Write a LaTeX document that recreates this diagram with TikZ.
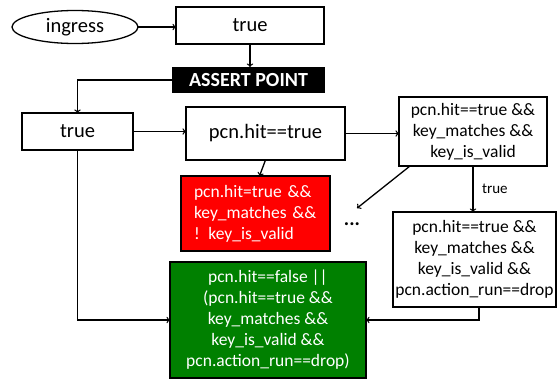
\documentclass[tikz,border=0pt]{standalone}
\usepackage{fontspec}
\setmainfont{Carlito}
\usetikzlibrary{shapes.geometric}
\definecolor{dropred}{RGB}{255,0,0}
\definecolor{passgreen}{RGB}{0,128,0}
\begin{document}
\begin{tikzpicture}[x=1pt,y=-1pt,inner sep=0pt,outer sep=0pt,line width=1.3pt,
condbox/.style={draw,rectangle,fill=white,font=\fontsize{20.5}{24.6}\selectfont},
exprbox/.style={draw,rectangle,align=center,font=\fontsize{17.5}{21}\selectfont}]
\useasboundingbox (0,0) rectangle (558,381);
\draw (75,27) node[draw,ellipse,minimum width=126pt,minimum height=33pt,font=\fontsize{20.5}{24.6}\selectfont] (ingress) {ingress};
\draw (250,25.5) node[condbox,minimum width=148pt,minimum height=37pt] (top) {true};
\draw (248.5,80) node[rectangle,fill=black,text=white,minimum width=153pt,minimum height=26pt,font=\bfseries\fontsize{20}{24}\selectfont] (assert) {ASSERT POINT};
\draw (77.5,131.5) node[condbox,minimum width=111pt,minimum height=37pt] (lefttrue) {true};
\draw (265.5,133.5) node[condbox,minimum width=159pt,minimum height=53pt] (pcn) {pcn.hit==true};
\draw (473,131.5) node[exprbox,minimum width=148pt,minimum height=69pt] (right1) {pcn.hit==true \&\&\\key\_matches \&\&\\key\_is\_valid};
\draw (255.5,213.5) node[exprbox,fill=dropred,text=white,align=left,text width=123pt,inner xsep=13pt,minimum height=75pt] (red) {pcn.hit=true \&\&\\key\_matches \&\&\\! key\_is\_valid};
\draw (352,225) node[anchor=base,font=\bfseries\fontsize{20}{24}\selectfont] (dots) {...};
\draw (474.5,259.5) node[exprbox,minimum width=163pt,minimum height=95pt] (right2) {pcn.hit==true \&\&\\key\_matches \&\&\\key\_is\_valid \&\&\\pcn.action\_run==drop};
\draw (268,320) node[exprbox,fill=passgreen,text=white,minimum width=196pt,minimum height=116pt] (green) {pcn.hit==false ||\\(pcn.hit==true \&\&\\key\_matches \&\&\\key\_is\_valid \&\&\\pcn.action\_run==drop)};
\draw[->] (ingress.east) -- (ingress.east -| top.west);
\draw[->] (top.south) -- (top.south |- assert.north);
\draw[->] (assert.west) -| (lefttrue.north);
\draw[->] (lefttrue.east) -- (lefttrue.east -| pcn.west);
\draw[->] (pcn.east) -- (pcn.east -| right1.west);
\draw[->] (pcn.south) -- ([xshift=4pt]red.north);
\draw[->] ([xshift=11pt]right1.south west) -- ([shift={(-3pt,14pt)}]dots.north east);
\draw[->] (right1.south) -- (right1.south |- right2.north) node[midway,right=9pt,font=\fontsize{15}{18}\selectfont] {true};
\draw[->] ([xshift=4.5pt]right2.south) |- (green.east);
\draw[->] (lefttrue.south) |- (green.west);
\end{tikzpicture}
\end{document}
